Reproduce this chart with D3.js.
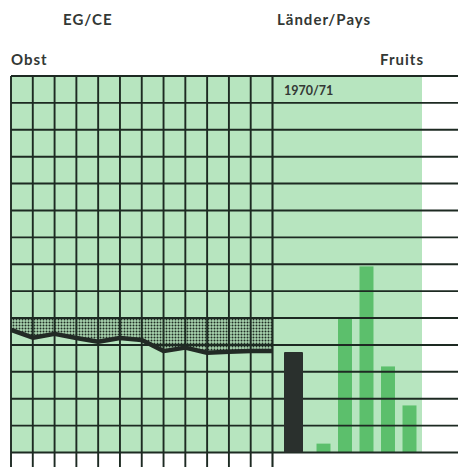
<!DOCTYPE html>
<html><head><meta charset="utf-8">
<script src="https://cdn.jsdelivr.net/npm/d3@7"></script>
<style>
html,body{margin:0;padding:0;background:#fff;}
svg{display:block;}
text{font-family:Lato,"Open Sans",sans-serif;font-weight:700;fill:#333835;}
</style></head>
<body>
<script>
// ---- data ----
const years = [1958,1959,1960,1961,1962,1963,1964,1965,1966,1967,1968,1969,1970];
const egSeries = [45.6,42.7,44.1,42.6,41.2,42.6,41.8,37.7,39.0,37.1,37.5,37.7,37.7];
const bandTop = 50;
const egLabel = "EG";
const egValue = 37.4;
const countries = ["C1","C2","C3","C4","C5"];
const countryValues = [3.3,50.4,69.2,32.0,17.5];
const yTicks = [0,10,20,30,40,50,60,70,80,90,100,110,120,130,140];
const titles = {left:"EG/CE", right:"Länder/Pays", unitLeft:"Obst", unitRight:"Fruits", period:"1970/71"};

// ---- layout ----
const W = 458, H = 467;
const svg = d3.select("body").append("svg").attr("width",W).attr("height",H);
const defs = svg.append("defs");
const pat = defs.append("pattern").attr("id","stip").attr("patternUnits","userSpaceOnUse")
  .attr("width",3).attr("height",3);
pat.append("rect").attr("width",3).attr("height",3).attr("fill","#a9d4af");
pat.append("circle").attr("cx",1.5).attr("cy",1.5).attr("r",1.0).attr("fill","#1f2c24");

const y = d3.scaleLinear().domain([0,140]).range([452.5,76]);
const x = d3.scaleLinear().domain([0, years.length-1]).range([11,272.5]);
const xEG = d3.scaleBand().domain([egLabel]).range([284,303]);
const xC = d3.scaleBand().domain(countries).range([312.75,420.25]).paddingInner(0.35).paddingOuter(0.175);

const gridCol = "#1d2a22";
const lightGreen = "#b7e5bf";

// backgrounds
svg.append("rect").attr("x",x(0)).attr("y",y(140)).attr("width",x(years.length-1)-x(0)).attr("height",y(0)-y(140)).attr("fill",lightGreen);
svg.append("rect").attr("x",x(years.length-1)).attr("y",y(140)).attr("width",422-x(years.length-1)).attr("height",y(0)-y(140)).attr("fill",lightGreen);

// stippled band
const area = d3.area().x((d,i)=>x(i)).y0(y(bandTop)).y1(d=>y(d));
svg.append("path").datum(egSeries).attr("d",area).attr("fill","url(#stip)");

// green bars
svg.selectAll("rect.cb").data(countryValues).join("rect").attr("class","cb")
  .attr("x",(d,i)=>xC(countries[i])).attr("width",xC.bandwidth())
  .attr("y",d=>y(d)).attr("height",d=>y(0)-y(d)).attr("fill","#5cbf6c");

// horizontal grid
svg.append("g").selectAll("line").data(yTicks).join("line")
  .attr("x1",x(0)).attr("x2",W).attr("y1",d=>y(d)).attr("y2",d=>y(d))
  .attr("stroke",gridCol).attr("stroke-width",1.9);

// vertical grid
svg.append("g").selectAll("line").data(years).join("line")
  .attr("x1",(d,i)=>x(i)).attr("x2",(d,i)=>x(i)).attr("y1",y(140)).attr("y2",H)
  .attr("stroke",gridCol).attr("stroke-width",(d,i)=>i===years.length-1?2.1:1.9);

// EG line
const line = d3.line().x((d,i)=>x(i)).y(d=>y(d));
svg.append("path").datum(egSeries).attr("d",line).attr("fill","none")
  .attr("stroke","#222a25").attr("stroke-width",4.5).attr("stroke-linejoin","round");

// EG bar
svg.append("rect").attr("x",xEG(egLabel)).attr("width",xEG.bandwidth())
  .attr("y",y(egValue)).attr("height",y(0)-y(egValue)).attr("fill","#2a302d").attr("rx",1);

// texts
const big = 15, ls = 1;
svg.append("text").attr("x",63).attr("y",25).attr("font-size",big).attr("letter-spacing",ls).text(titles.left);
svg.append("text").attr("x",277).attr("y",25).attr("font-size",big).attr("letter-spacing",ls).text(titles.right);
svg.append("text").attr("x",11).attr("y",65).attr("font-size",big).attr("letter-spacing",ls).text(titles.unitLeft);
svg.append("text").attr("x",424).attr("y",65).attr("font-size",big).attr("letter-spacing",ls).attr("text-anchor","end").text(titles.unitRight);
svg.append("text").attr("x",284).attr("y",95).attr("font-size",12.5).text(titles.period);
</script>
</body></html>
